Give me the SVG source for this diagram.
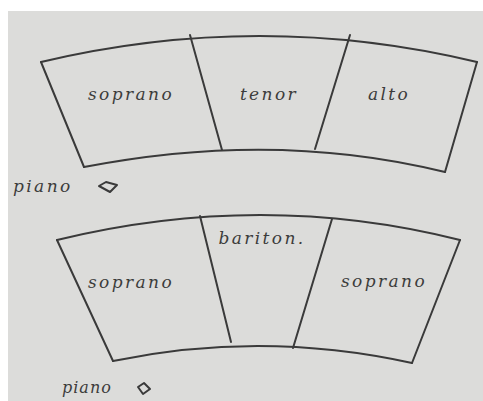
<svg xmlns="http://www.w3.org/2000/svg" width="483" height="401" viewBox="0 0 483 401">
<style>
.ln{fill:none;stroke:#3a3a3a;stroke-width:2;stroke-linecap:round;stroke-linejoin:round}
.tx{font-family:"DejaVu Serif","Liberation Serif",serif;font-style:italic;font-size:17px;fill:#3c3c3c;letter-spacing:2.4px}
.pn{font-family:"DejaVu Serif","Liberation Serif",serif;font-style:italic;font-size:16px;fill:#3c3c3c;letter-spacing:1px}
</style>
<rect width="483" height="401" fill="#ffffff"/>
<rect x="8" y="11" width="475" height="390" fill="#dcdcda"/>
<g id="stage-top">
<path class="ln" d="M41,62 Q260,10 477,62"/>
<path class="ln" d="M41,62 L84,167"/>
<path class="ln" d="M477,62 L445,172"/>
<path class="ln" d="M84,167 Q275,130 445,172"/>
<path class="ln" d="M190,35 L222,150"/>
<path class="ln" d="M350,35 L315,149"/>
</g>
<g id="stage-bottom">
<path class="ln" d="M57,240 Q262,190 460,240"/>
<path class="ln" d="M57,240 L113,361"/>
<path class="ln" d="M460,240 L412,363"/>
<path class="ln" d="M113,361 Q262,330 412,363"/>
<path class="ln" d="M200,216 L231,342"/>
<path class="ln" d="M332,219 L293,348"/>
</g>
<g id="labels">
<text class="tx" x="131" y="100" text-anchor="middle">soprano</text>
<text class="tx" x="269" y="100" text-anchor="middle">tenor</text>
<text class="tx" x="389" y="100" text-anchor="middle">alto</text>
<text class="tx" x="262" y="244" text-anchor="middle">bariton.</text>
<text class="tx" x="131" y="288" text-anchor="middle">soprano</text>
<text class="tx" x="384" y="287" text-anchor="middle">soprano</text>
</g>
<g id="piano-top">
<text class="tx" x="13" y="192">piano</text>
<path class="ln" d="M99,186 L106,182 L117,185 L110,192 Z"/>
</g>
<g id="piano-bottom">
<text class="pn" x="62" y="393">piano</text>
<path class="ln" d="M138,387 L144,383 L150,389 L143,394 Z"/>
</g>
</svg>
